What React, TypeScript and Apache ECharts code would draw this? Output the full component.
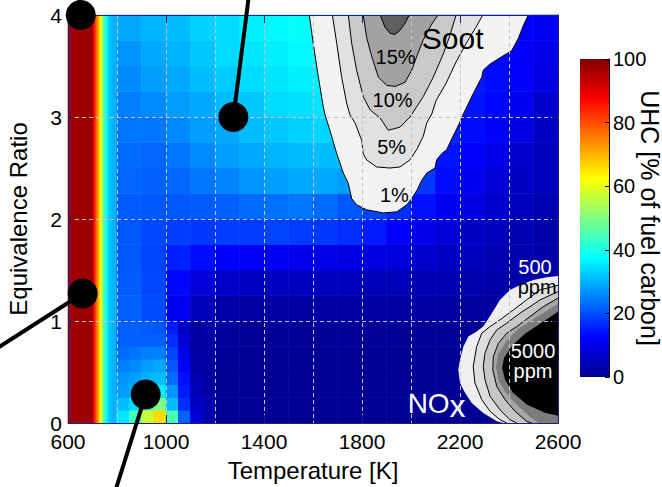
import React, { useEffect, useRef } from 'react';
import * as echarts from 'echarts';

const FONT = '"Liberation Sans", Arial, Helvetica, sans-serif';

// ---- UHC field [% of fuel carbon] ----
// Cold-wall columns: the UHC value only depends on temperature here (whole phi range 0..4)
const wallTempEdges = [600, 703, 710, 717, 724, 731, 738, 745, 755, 765, 778, 800];
const wallUHC = [97, 88, 81, 75, 69, 62, 53, 44, 37, 32, 30];

// Main field: columns of temperature, rows of equivalence ratio (bottom row first)
const fieldTempEdges = [800, 900, 1000, 1100, 1200, 1300, 1400, 1500, 1600, 1700, 1800, 1900, 2000, 2100, 2200, 2300, 2400, 2500, 2600];
const fieldPhiEdges = [0, 0.25, 0.5, 0.75, 1, 1.25, 1.5, 1.75, 2, 2.25, 2.5, 2.75, 3, 3.25, 3.5, 3.75, 4];
const fieldUHC = [
  [38, 50, 26, 3, 1, 0.5, 0.5, 0.5, 0.5, 0.5, 0.5, 0.5, 0.5, 0.5, 0.5, 0.5, 0.5, 0.5],
  [29, 34, 17, 2, 0.5, 0.5, 0.5, 0.5, 0.5, 0.5, 0.5, 0.5, 0.5, 0.5, 0.5, 0.5, 0.5, 0.5],
  [24, 24, 13, 2, 1, 0.5, 0.5, 0.5, 0.5, 0.5, 0.5, 0.5, 0.5, 0.5, 0.5, 0.5, 0.5, 0.5],
  [22, 21, 10, 2.5, 1.5, 1, 1, 1, 1, 1, 1, 1, 1, 1, 1, 1, 1, 1],
  [22, 20, 11, 4.5, 3, 2.5, 2.5, 2.5, 2.5, 2.5, 2.5, 2.5, 2.5, 2, 2, 2, 2, 2],
  [21.5, 19.5, 13, 8, 6.5, 6, 5.5, 5.5, 5, 5, 4.5, 4.5, 4, 4, 3.5, 3, 3, 2.5],
  [21, 19, 15.5, 13.5, 12.5, 11.5, 11, 10.5, 10, 9.5, 9, 8.5, 7, 6, 5, 4, 3.5, 3],
  [21, 19.5, 18.5, 18, 18.5, 18.5, 19, 18.5, 18, 17, 15, 12.5, 10, 8, 6, 5, 4, 3],
  [21.5, 21, 21, 21.5, 22, 23, 23.5, 24, 23, 21, 19, 17, 14, 11, 9, 7, 5, 4],
  [22.5, 22, 22.5, 24, 25.5, 27, 28, 29, 29, 28, 26, 23, 18, 13.5, 11, 8, 6, 5],
  [23, 22.5, 24, 26, 28, 29, 30, 31, 31, 31, 28, 25, 20, 14.5, 12.5, 10, 7, 5],
  [24, 24, 26, 28, 29, 31, 32, 33, 33.5, 33, 30, 27, 22, 16, 13.5, 12, 9, 6],
  [25, 26, 28, 29, 31, 32, 34, 34.5, 35, 34, 31, 28, 24, 18, 14.5, 13, 11, 7],
  [26, 28, 29, 31, 32.5, 34, 35, 36, 36, 35, 32, 29, 25, 20, 15, 13.5, 12, 9],
  [27, 29, 30, 32, 34, 35, 36, 37, 37, 36, 33, 30, 26, 21, 16, 13, 12, 10],
  [29, 30, 31, 33, 34, 36, 37, 38, 38, 38, 37, 33, 28, 22, 18, 15, 12, 11],
];

// Finer sampling of the low-phi plume near 950 K (drawn over the main field)
const plumeTempEdges = [800, 850, 900, 950, 1000, 1050, 1100, 1150];
const plumePhiEdges = [0, 0.125, 0.25, 0.375, 0.5, 0.625, 0.75, 0.875, 1.0];
const plumeUHC = [
  [35, 44, 57, 66, 45, 22, 8],
  [31, 34, 42, 50, 31, 17, 6],
  [28, 30, 35, 36, 27, 15, 4.5],
  [27, 28, 30, 31, 23, 14, 4],
  [25, 26, 28, 29, 21, 12, 3],
  [23, 24, 25, 25, 19, 10, 2],
  [22, 22, 22, 22, 17, 8, 1.5],
  [22, 22, 21.5, 21, 15, 6, 1.5],
];

// ---- Soot yield contours [T (K), phi], outermost level first ----
const soot1 = [[1585, 4], [1601, 3.72], [1622, 3.39], [1642, 3.1], [1649, 3.02], [1669, 2.87], [1697, 2.64], [1724, 2.45], [1744, 2.35], [1758, 2.2], [1778, 2.14], [1819, 2.09], [1887, 2.06], [1942, 2.07], [1983, 2.14], [2003, 2.2], [2024, 2.28], [2044, 2.38], [2064, 2.45], [2098, 2.5], [2105, 2.58], [2125, 2.64], [2146, 2.68], [2167, 2.79], [2188, 2.89], [2214, 3.03], [2254, 3.23], [2289, 3.39], [2295, 3.46], [2323, 3.52], [2370, 3.59], [2411, 3.65], [2438, 3.77], [2459, 3.9], [2479, 4]];
const soot5 = [[1679, 4], [1697, 3.72], [1717, 3.39], [1738, 3.13], [1751, 3.02], [1772, 2.94], [1799, 2.77], [1805, 2.64], [1819, 2.58], [1860, 2.51], [1914, 2.5], [1955, 2.51], [1996, 2.58], [2023, 2.68], [2050, 2.81], [2064, 2.94], [2085, 3.03], [2102, 3.16], [2143, 3.33], [2184, 3.54], [2225, 3.72], [2265, 3.88], [2293, 4]];
const soot10 = [[1744, 4], [1758, 3.72], [1778, 3.46], [1805, 3.2], [1833, 3.07], [1874, 2.99], [1907, 2.87], [1955, 2.9], [1996, 3.0], [2050, 3.2], [2091, 3.39], [2132, 3.62], [2159, 3.8], [2184, 4]];
const soot15 = [[1805, 4], [1819, 3.78], [1840, 3.59], [1867, 3.39], [1901, 3.31], [1935, 3.3], [1976, 3.34], [2003, 3.46], [2023, 3.59], [2049, 3.75], [2082, 3.9], [2110, 4]];
const soot20 = [[1874, 4], [1894, 3.88], [1914, 3.82], [1935, 3.81], [1955, 3.85], [1976, 3.92], [1993, 4]];
const sootContours = [soot1, soot5, soot10, soot15, soot20];

// ---- NOx contours [T (K), phi], outermost level first ----
const nox500 = [[2600, 1.442], [2554, 1.429], [2499, 1.403], [2445, 1.354], [2404, 1.305], [2363, 1.207], [2330, 1.077], [2295, 0.946], [2268, 0.897], [2234, 0.848], [2214, 0.75], [2200, 0.62], [2193, 0.522], [2200, 0.392], [2221, 0.294], [2248, 0.196], [2295, 0.098], [2350, 0.016], [2377, 0]];
const nox1000 = [[2600, 1.35], [2527, 1.305], [2472, 1.207], [2418, 1.109], [2363, 1.011], [2323, 0.946], [2289, 0.881], [2268, 0.75], [2254, 0.554], [2261, 0.392], [2289, 0.228], [2323, 0.114], [2363, 0.032], [2391, 0]];
const nox2000 = [[2600, 1.288], [2527, 1.207], [2486, 1.141], [2445, 1.077], [2391, 0.979], [2350, 0.913], [2323, 0.816], [2302, 0.685], [2295, 0.554], [2302, 0.424], [2323, 0.26], [2363, 0.13], [2404, 0.032], [2432, 0]];
const nox3000 = [[2600, 1.224], [2540, 1.141], [2486, 1.044], [2432, 0.946], [2391, 0.881], [2357, 0.783], [2336, 0.652], [2334, 0.522], [2350, 0.358], [2384, 0.228], [2425, 0.114], [2472, 0.016], [2493, 0]];
const nox4000 = [[2600, 1.168], [2527, 1.06], [2445, 0.933], [2392, 0.816], [2355, 0.669], [2347, 0.541], [2359, 0.404], [2396, 0.267], [2445, 0.15], [2486, 0.062], [2519, 0]];
const nox5000 = [[2600, 1.09], [2539, 0.992], [2465, 0.874], [2412, 0.757], [2380, 0.639], [2372, 0.541], [2384, 0.424], [2416, 0.297], [2474, 0.179], [2547, 0.101], [2600, 0.071]];
const noxContours = [nox500, nox1000, nox2000, nox3000, nox4000, nox5000];

// ---- Annotations ----
const labelText = ['Soot', '15%', '10%', '5%', '1%', '500', 'ppm', '5000', 'ppm', 'NO', 'x'];
const labelT = [2170, 1937, 1925, 1921, 1932, 2506, 2515, 2498, 2498, 2072, 2190];
const labelPhi = [3.77, 3.59, 3.165, 2.71, 2.24, 1.53, 1.33, 0.71, 0.51, 0.196, 0.17];

// Operating points and their leader lines
const pointT = [652, 1275, 660, 917];
const pointPhi = [4.0, 3.0, 1.27, 0.28];
const leaderEndT = [645, 1341, 282, 786];
const leaderEndPhi = [4.3, 4.24, 0.69, -0.72];

// Colorbar ticks
const colorbarMin = 0;
const colorbarMax = 100;
const colorbarStep = 20;

// ---- Styles ----
const JET = ['#00008f', '#0000ff', '#0080ff', '#00ffff', '#80ff80', '#ffff00', '#ff8000', '#ff0000', '#800000'];
const sootFill = ['#f2f2f2', '#e1e1e1', '#c9c9c9', '#a2a2a2', '#5e5e5e'];
const noxFill = ['#efefef', '#dedede', '#c6c6c6', '#a6a6a6', '#7c7c7c', '#000000'];
const noxOutline = [false, true, true, true, false, false];
const labelColor = ['#000', '#000', '#000', '#000', '#000', '#fff', '#000', '#fff', '#fff', '#fff', '#fff'];
const labelSize = [30, 20, 20, 20, 20, 20, 20, 20, 20, 28, 32];
const FRAME = '#202078';
const GRIDLINE = '#c4c4c4';

function pushGrid(cells: number[][], tEdges: number[], pEdges: number[], values: number[][]) {
  values.forEach((row, r) =>
    row.forEach((v, c) => cells.push([tEdges[c], tEdges[c + 1], pEdges[r], pEdges[r + 1], v]))
  );
}

function buildCells(): number[][] {
  const cells: number[][] = [];
  wallUHC.forEach((v, i) => cells.push([wallTempEdges[i], wallTempEdges[i + 1], 0, 4, v]));
  pushGrid(cells, fieldTempEdges, fieldPhiEdges, fieldUHC);
  pushGrid(cells, plumeTempEdges, plumePhiEdges, plumeUHC);
  return cells;
}

function textStyle(text: string, color: string, size: number) {
  const font = `normal ${size}px ${FONT}`;
  return {
    text,
    fill: color,
    font,
    align: 'center',
    verticalAlign: 'middle',
    textAlign: 'center',
    textVerticalAlign: 'middle',
  };
}

function buildOption(): any {
  const dashed = { color: GRIDLINE, type: [4, 3], width: 1 };
  const cbStops = JET.map((c, i) => ({ offset: i / (JET.length - 1), color: c }));
  const plain = (v: number) => String(v);

  return {
    animation: false,
    backgroundColor: '#ffffff',
    grid: [
      { left: 68, top: 15, width: 490, height: 408, outerBoundsMode: 'none', containLabel: false },
      { left: 580, top: 59, width: 29, height: 318, outerBoundsMode: 'none', containLabel: false },
    ],
    xAxis: [
      {
        gridIndex: 0, type: 'value', min: 600, max: 2600, interval: 400, position: 'bottom', z: 3,
        name: 'Temperature [K]', nameLocation: 'middle', nameGap: 35, nameMoveOverlap: false,
        nameTextStyle: { fontSize: 24, color: '#000', fontFamily: FONT },
        axisLine: { show: true, onZero: false, lineStyle: { color: FRAME, width: 1 } },
        axisTick: { show: true, inside: true, length: 8, lineStyle: { color: FRAME } },
        axisLabel: { fontSize: 21, color: '#000', margin: 8, fontFamily: FONT, showMinLabel: true, showMaxLabel: true, formatter: plain },
        splitLine: { show: true, lineStyle: dashed },
        minorTick: { show: false, splitNumber: 2 },
        minorSplitLine: { show: true, lineStyle: dashed },
      },
      {
        gridIndex: 0, type: 'value', min: 600, max: 2600, interval: 400, position: 'top', z: 3,
        axisLine: { show: true, onZero: false, lineStyle: { color: FRAME, width: 1 } },
        axisTick: { show: true, inside: true, length: 8, lineStyle: { color: FRAME } },
        axisLabel: { show: false },
        splitLine: { show: false },
      },
      { gridIndex: 1, type: 'value', min: 0, max: 1, show: false },
    ],
    yAxis: [
      {
        gridIndex: 0, type: 'value', min: 0, max: 4, interval: 1, position: 'left', z: 3,
        name: 'Equivalence Ratio', nameLocation: 'middle', nameGap: 38, nameMoveOverlap: false,
        nameTextStyle: { fontSize: 24, color: '#000', fontFamily: FONT },
        axisLine: { show: true, onZero: false, lineStyle: { color: FRAME, width: 1 } },
        axisTick: { show: true, inside: true, length: 6, lineStyle: { color: FRAME } },
        axisLabel: { fontSize: 21, color: '#000', margin: 6, fontFamily: FONT, showMinLabel: true, showMaxLabel: true, formatter: plain },
        splitLine: { show: true, lineStyle: dashed },
      },
      {
        gridIndex: 0, type: 'value', min: 0, max: 4, interval: 1, position: 'right', z: 3,
        axisLine: { show: true, onZero: false, lineStyle: { color: FRAME, width: 1 } },
        axisTick: { show: true, inside: true, length: 6, lineStyle: { color: FRAME } },
        axisLabel: { show: false },
        splitLine: { show: false },
      },
      {
        gridIndex: 1, type: 'value', min: colorbarMin, max: colorbarMax, interval: colorbarStep, position: 'right', z: 3,
        name: 'UHC [% of fuel carbon]', nameLocation: 'middle', nameRotate: -90, nameGap: 28, nameMoveOverlap: false,
        nameTextStyle: { fontSize: 25, color: '#000', fontFamily: FONT },
        axisLine: { show: true, onZero: false, lineStyle: { color: '#000', width: 1 } },
        axisTick: { show: true, inside: true, length: 4, lineStyle: { color: '#000' } },
        axisLabel: { fontSize: 20, color: '#000', margin: 4, fontFamily: FONT, showMinLabel: true, showMaxLabel: true, formatter: plain },
        splitLine: { show: false },
      },
    ],
    visualMap: {
      type: 'continuous', show: false, seriesIndex: 0, dimension: 4,
      min: colorbarMin, max: colorbarMax, inRange: { color: JET },
    },
    series: [
      {
        // UHC field
        type: 'custom', xAxisIndex: 0, yAxisIndex: 0, z: 1,
        data: buildCells(),
        encode: { x: [0, 1], y: [2, 3] },
        renderItem: (_p: any, api: any) => {
          const a = api.coord([api.value(0), api.value(2)]);
          const b = api.coord([api.value(1), api.value(3)]);
          return {
            type: 'rect',
            shape: { x: a[0] - 0.3, y: b[1] - 0.3, width: b[0] - a[0] + 0.6, height: a[1] - b[1] + 0.6 },
            style: { fill: api.visual('color') },
          };
        },
      },
      {
        // soot yield contours
        type: 'custom', xAxisIndex: 0, yAxisIndex: 0, z: 2,
        data: sootContours.map((c) => c[0]),
        renderItem: (params: any, api: any) => {
          const pts = sootContours[params.dataIndex].map((p) => api.coord(p));
          return {
            type: 'group',
            children: [
              { type: 'polygon', shape: { points: pts }, style: { fill: sootFill[params.dataIndex] } },
              { type: 'polyline', shape: { points: pts }, style: { fill: 'none', stroke: '#000', lineWidth: 1 } },
            ],
          };
        },
      },
      {
        // NOx contours, closed through the hot/lean corner
        type: 'custom', xAxisIndex: 0, yAxisIndex: 0, z: 2,
        data: noxContours.map((c) => c[0]),
        renderItem: (params: any, api: any) => {
          const i = params.dataIndex;
          const curve = noxContours[i].map((p) => api.coord(p));
          const last = noxContours[i][noxContours[i].length - 1];
          const closing = last[1] === 0 ? [api.coord([2600, 0])] : [];
          const children: any[] = [
            { type: 'polygon', shape: { points: curve.concat(closing) }, style: { fill: noxFill[i] } },
          ];
          if (noxOutline[i]) {
            children.push({ type: 'polyline', shape: { points: curve }, style: { fill: 'none', stroke: '#000', lineWidth: 1 } });
          }
          return { type: 'group', children };
        },
      },
      {
        // contour labels
        type: 'custom', xAxisIndex: 0, yAxisIndex: 0, z: 6,
        data: labelT.map((t, i) => [t, labelPhi[i]]),
        renderItem: (params: any, api: any) => {
          const i = params.dataIndex;
          const p = api.coord([api.value(0), api.value(1)]);
          return { type: 'text', x: p[0], y: p[1], style: textStyle(labelText[i], labelColor[i], labelSize[i]) };
        },
      },
      {
        // operating points with leader lines
        type: 'custom', xAxisIndex: 0, yAxisIndex: 0, z: 7,
        data: pointT.map((t, i) => [t, pointPhi[i], leaderEndT[i], leaderEndPhi[i]]),
        renderItem: (_p: any, api: any) => {
          const c = api.coord([api.value(0), api.value(1)]);
          const e = api.coord([api.value(2), api.value(3)]);
          return {
            type: 'group',
            children: [
              { type: 'line', shape: { x1: c[0], y1: c[1], x2: e[0], y2: e[1] }, style: { stroke: '#000', lineWidth: 4 } },
              { type: 'circle', shape: { cx: c[0], cy: c[1], r: 15 }, style: { fill: '#000' } },
            ],
          };
        },
      },
      {
        // colorbar
        type: 'custom', xAxisIndex: 2, yAxisIndex: 2, z: 1,
        data: [[0, colorbarMin, 1, colorbarMax]],
        renderItem: (_p: any, api: any) => {
          const a = api.coord([api.value(0), api.value(1)]);
          const b = api.coord([api.value(2), api.value(3)]);
          return {
            type: 'rect',
            shape: { x: a[0], y: b[1], width: b[0] - a[0], height: a[1] - b[1] },
            style: { fill: new echarts.graphic.LinearGradient(0, 1, 0, 0, cbStops) },
          };
        },
      },
    ],
  };
}

export default function App() {
  const ref = useRef<HTMLDivElement>(null);
  useEffect(() => {
    if (!ref.current) return;
    const chart = echarts.init(ref.current, undefined, { renderer: 'svg' });
    chart.setOption(buildOption());
    return () => chart.dispose();
  }, []);
  return (
    <div
      ref={ref}
      style={{ position: 'absolute', left: 0, top: 0, width: 662, height: 487, background: '#fff' }}
    />
  );
}
